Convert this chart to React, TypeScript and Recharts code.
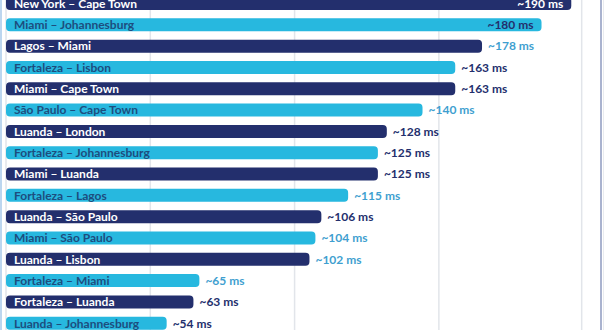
import React from 'react';
import { BarChart, Bar, XAxis, YAxis, CartesianGrid, Cell, LabelList } from 'recharts';

const routes = [
  'New York – Cape Town',
  'Miami – Johannesburg',
  'Lagos – Miami',
  'Fortaleza – Lisbon',
  'Miami – Cape Town',
  'São Paulo – Cape Town',
  'Luanda – London',
  'Fortaleza – Johannesburg',
  'Miami – Luanda',
  'Fortaleza – Lagos',
  'Luanda – São Paulo',
  'Miami – São Paulo',
  'Luanda – Lisbon',
  'Fortaleza – Miami',
  'Fortaleza – Luanda',
  'Luanda – Johannesburg',
];

// latency printed next to each bar
const latency = [190, 180, 178, 163, 163, 140, 128, 125, 125, 115, 106, 104, 102, 65, 63, 54];

// bar lengths as drawn in the source (two bars are drawn shorter than their label)
const barLength = [190, 180, 160, 151, 151, 140, 128, 125, 125, 115, 106, 104, 102, 65, 63, 54];

const gridTicks = [48.5, 97, 145.5, 193.5];

const NAVY = '#232f6d';
const CYAN = '#27b8df';
const MUTED = '#3f9fd0';
const FONT = 'Lato, "Open Sans", sans-serif';

// rows whose value label is printed in the lighter blue
const mutedRows = new Set([2, 5, 9, 11, 12, 13]);
// rows whose value label sits inside the bar
const insideRows = new Set([0, 1]);

const data = routes.map((route, i) => ({
  route,
  latency: latency[i],
  len: barLength[i],
}));

const renderRoute = (props: any) => {
  const { x, y, height, index, value } = props;
  const dark = index % 2 === 0;
  return (
    <text
      x={x + 8}
      y={y + height / 2}
      dy="0.36em"
      fill={dark ? '#ffffff' : '#1d4d7e'}
      fontFamily={FONT}
      fontWeight={700}
      fontSize={12}
    >
      {value}
    </text>
  );
};

const renderValue = (props: any) => {
  const { x, y, width, height, index } = props;
  const label = `~${latency[index]} ms`;
  const cy = y + height / 2;
  if (insideRows.has(index)) {
    return (
      <text
        x={x + width - 8}
        y={cy}
        dy="0.36em"
        textAnchor="end"
        fill={index === 0 ? '#ffffff' : NAVY}
        fontFamily={FONT}
        fontWeight={700}
        fontSize={12}
      >
        {label}
      </text>
    );
  }
  return (
    <text
      x={x + width + 6}
      y={cy}
      dy="0.36em"
      fill={mutedRows.has(index) ? MUTED : NAVY}
      fontFamily={FONT}
      fontWeight={700}
      fontSize={12}
    >
      {label}
    </text>
  );
};

export default function App() {
  return (
    <div
      style={{
        position: 'fixed',
        left: 0,
        top: 0,
        width: 604,
        height: 330,
        overflow: 'hidden',
        background: '#ffffff',
      }}
    >
      <div style={{ position: 'absolute', left: 0, top: -7 }}>
        <BarChart
          width={604}
          height={341}
          layout="vertical"
          data={data}
          margin={{ top: 0, right: 0, left: 6, bottom: 0 }}
          barSize={13}
        >
          <CartesianGrid horizontal={false} stroke="#e2e5ea" strokeWidth={1.5} />
          <XAxis type="number" domain={[0, 201]} ticks={gridTicks} hide />
          <YAxis type="category" dataKey="route" hide />
          <Bar dataKey="len" radius={4} isAnimationActive={false}>
            {data.map((_, i) => (
              <Cell key={i} fill={i % 2 === 0 ? NAVY : CYAN} />
            ))}
            <LabelList dataKey="route" content={renderRoute} />
            <LabelList dataKey="latency" content={renderValue} />
          </Bar>
        </BarChart>
      </div>
      <div style={{ position: 'absolute', left: 0, top: 0, width: 2, height: 330, background: '#bcd6ef' }} />
      <div style={{ position: 'absolute', left: 600, top: 0, width: 2, height: 330, background: '#aab3cf' }} />
    </div>
  );
}
